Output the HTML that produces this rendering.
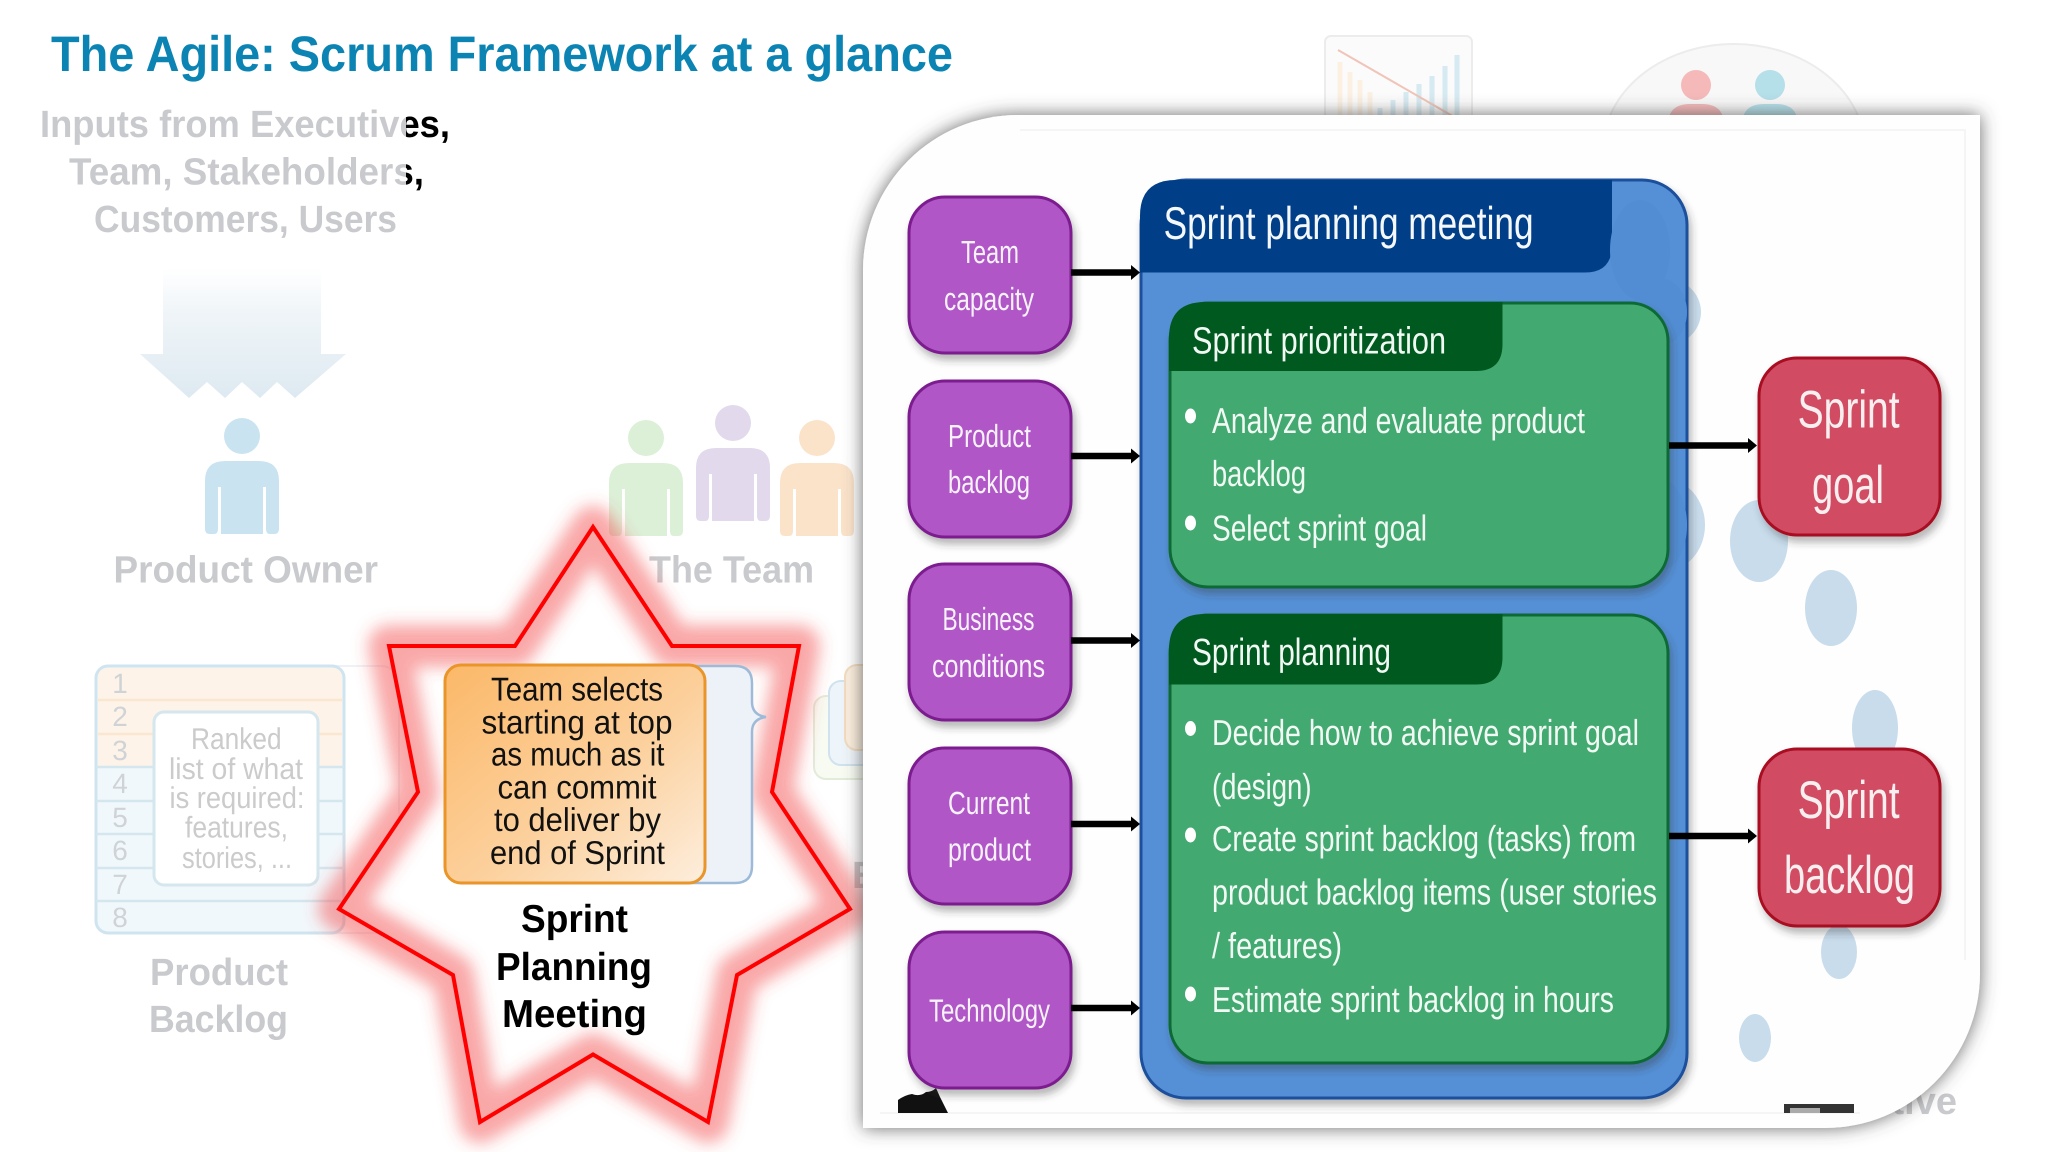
<!DOCTYPE html>
<html><head><meta charset="utf-8"><title>The Agile: Scrum Framework at a glance</title>
<style>
html,body{margin:0;padding:0;background:#fff;width:2048px;height:1152px;overflow:hidden}
svg{display:block}
text{font-family:"Liberation Sans",sans-serif;text-rendering:geometricPrecision}
.g{fill:#c9cacd;font-weight:bold;font-size:38px}
.w{fill:#f6f2fa;font-size:32px}
.b{fill:#f2f9f4;font-size:36px}
.n{fill:#cfd3d6;font-size:28px}
.r{fill:#cbcbcb;font-size:30px}
.o{fill:#111;font-size:33px}
.s{fill:#000;font-weight:bold;font-size:39px}
</style></head><body>
<svg width="2048" height="1152" viewBox="0 0 2048 1152" xmlns="http://www.w3.org/2000/svg">
<defs>
<linearGradient id="inp" gradientUnits="userSpaceOnUse" x1="0" y1="0" x2="2048" y2="0">
<stop offset="0.1982" stop-color="#c9cacd"/><stop offset="0.1982" stop-color="#000"/>
</linearGradient>
<linearGradient id="arr" x1="0" y1="0" x2="0" y2="1">
<stop offset="0" stop-color="#eaf1f6" stop-opacity="0"/><stop offset="0.35" stop-color="#e8f0f5" stop-opacity=".7"/><stop offset="1" stop-color="#dde9f1" stop-opacity="1"/>
</linearGradient>
<linearGradient id="org" x1="0" y1="0" x2="1" y2="1">
<stop offset="0" stop-color="#fbb868"/><stop offset="0.55" stop-color="#fcd09c"/><stop offset="1" stop-color="#fdeedd"/>
</linearGradient>
<filter id="glow" x="-20%" y="-20%" width="140%" height="140%"><feGaussianBlur stdDeviation="8"/></filter>
<filter id="ps" x="-10%" y="-10%" width="120%" height="120%"><feDropShadow dx="0" dy="0" stdDeviation="9" flood-color="#444" flood-opacity=".8"/></filter>
<filter id="bs" x="-20%" y="-20%" width="140%" height="140%"><feDropShadow dx="3" dy="6" stdDeviation="4" flood-color="#333" flood-opacity=".35"/></filter>
<g id="p">
<ellipse cx="37" cy="-25" rx="18" ry="18"/>
<path d="M0 20Q0 0 20 0H54Q74 0 74 20V68Q74 73 69 73H65Q61 73 61 68V26H58V73H16V26H13V68Q13 73 9 73H5Q0 73 0 68Z"/>
</g>
</defs>

<rect width="2048" height="1152" fill="#fff"/>

<!-- title -->
<text x="51" y="71" font-size="50" font-weight="bold" fill="#0b84b4" textLength="902" lengthAdjust="spacingAndGlyphs">The Agile: Scrum Framework at a glance</text>

<!-- inputs -->
<text x="40" y="137" font-size="38" font-weight="bold" fill="url(#inp)" textLength="410" lengthAdjust="spacingAndGlyphs">Inputs from Executives,</text>
<text x="69" y="184.5" font-size="38" font-weight="bold" fill="url(#inp)" textLength="355" lengthAdjust="spacingAndGlyphs">Team, Stakeholders,</text>
<text x="94" y="232" class="g" textLength="303" lengthAdjust="spacingAndGlyphs">Customers, Users</text>

<!-- faded arrows -->
<path d="M163 268H321V354H346L295 398L277 382L260 398L242 382L225 398L207 382L189 398L140 354H163Z" fill="url(#arr)"/>

<!-- people -->
<use href="#p" x="205" y="461" fill="#c9e4f0"/>
<use href="#p" x="609" y="463" fill="#dcf0d8"/>
<use href="#p" x="696" y="448" fill="#e2d9ec"/>
<use href="#p" x="780" y="463" fill="#fbe3ca"/>
<text x="113.5" y="582.5" class="g" textLength="264.5" lengthAdjust="spacingAndGlyphs">Product Owner</text>
<text x="649" y="582.5" class="g" textLength="165" lengthAdjust="spacingAndGlyphs">The Team</text>

<!-- backlog ghost -->
<rect x="300" y="666" width="99" height="267" rx="18" fill="#fff" stroke="#eef2f6" stroke-width="2"/>
<rect x="96" y="666" width="248" height="267" rx="12" fill="#f1f8fc" stroke="#cfe4ee" stroke-width="3"/>
<path d="M98 678Q98 668 108 668H332Q342 668 342 678V766H98Z" fill="#fdf3e8"/>
<g stroke="#d4e6ee" stroke-width="2.5"><path d="M96 767H344M96 801H344M96 834H344M96 868H344M96 901H344"/></g>
<g stroke="#fbe6cf" stroke-width="2.5"><path d="M98 700H342M98 734H342"/></g>
<text x="120" y="693" class="n" text-anchor="middle">1</text><text x="120" y="726" class="n" text-anchor="middle">2</text><text x="120" y="760" class="n" text-anchor="middle">3</text><text x="120" y="793" class="n" text-anchor="middle">4</text><text x="120" y="827" class="n" text-anchor="middle">5</text><text x="120" y="860" class="n" text-anchor="middle">6</text><text x="120" y="894" class="n" text-anchor="middle">7</text><text x="120" y="927" class="n" text-anchor="middle">8</text>
<rect x="154" y="712" width="164" height="173" rx="10" fill="#fff" stroke="#d4e6ee" stroke-width="3"/>
<text x="191" y="749" class="r" textLength="90.6" lengthAdjust="spacingAndGlyphs">Ranked</text>
<text x="169" y="779" class="r" textLength="134" lengthAdjust="spacingAndGlyphs">list of what</text>
<text x="169.5" y="808" class="r" textLength="135" lengthAdjust="spacingAndGlyphs">is required:</text>
<text x="185" y="837.5" class="r" textLength="103" lengthAdjust="spacingAndGlyphs">features,</text>
<text x="182" y="868" class="r" textLength="110" lengthAdjust="spacingAndGlyphs">stories, ...</text>
<text x="150" y="985" class="g" textLength="138" lengthAdjust="spacingAndGlyphs">Product</text>
<text x="149" y="1032" class="g" textLength="139" lengthAdjust="spacingAndGlyphs">Backlog</text>
<path d="M407 710L418 717L407 724Z" fill="#c6ccd6"/>

<!-- stack ghost behind panel -->
<rect x="814" y="696" width="80" height="83" rx="12" fill="#f7fbf2" stroke="#e3ecd8" stroke-width="2"/>
<rect x="829" y="681" width="80" height="84" rx="12" fill="#eef5fa" stroke="#cfe2ee" stroke-width="2"/>
<rect x="845" y="665" width="80" height="85" rx="12" fill="#fbeedd" stroke="#f2dcc0" stroke-width="2"/>
<text x="852" y="888" class="g" font-size="36">E</text>

<!-- star -->
<polygon points="593,527 672,646 799,646 772,792 850,909 737,975 708,1122 593,1054.5 480,1122 453,975 339,909 418,792 389,646 515,646" fill="#fff"/>
<polygon points="593,527 672,646 799,646 772,792 850,909 737,975 708,1122 593,1054.5 480,1122 453,975 339,909 418,792 389,646 515,646" fill="none" stroke="#f24a4a" stroke-width="42" stroke-opacity=".48" stroke-linejoin="round" filter="url(#glow)"/>
<polygon points="593,527 672,646 799,646 772,792 850,909 737,975 708,1122 593,1054.5 480,1122 453,975 339,909 418,792 389,646 515,646" fill="none" stroke="#f00" stroke-width="4"/>

<!-- bracket & orange box -->
<path d="M600 666H735Q752 666 752 683V702Q752 715 766 717Q752 719 752 732V866Q752 883 735 883H600Z" fill="#edf2f9" stroke="#9dbbd8" stroke-width="2.5"/>
<rect x="445" y="665" width="260" height="218" rx="16" fill="url(#org)" stroke="#e9952a" stroke-width="3"/>
<text x="491" y="700.4" class="o" textLength="172" lengthAdjust="spacingAndGlyphs">Team selects</text>
<text x="481.5" y="733.6" class="o" textLength="191" lengthAdjust="spacingAndGlyphs">starting at top</text>
<text x="491" y="765.7" class="o" textLength="173.5" lengthAdjust="spacingAndGlyphs">as much as it</text>
<text x="497.5" y="798.6" class="o" textLength="159" lengthAdjust="spacingAndGlyphs">can commit</text>
<text x="494" y="831" class="o" textLength="167" lengthAdjust="spacingAndGlyphs">to deliver by</text>
<text x="490" y="864" class="o" textLength="175" lengthAdjust="spacingAndGlyphs">end of Sprint</text>
<text x="521" y="932" class="s" textLength="107" lengthAdjust="spacingAndGlyphs">Sprint</text>
<text x="496" y="980" class="s" textLength="156" lengthAdjust="spacingAndGlyphs">Planning</text>
<text x="502" y="1027" class="s" textLength="145" lengthAdjust="spacingAndGlyphs">Meeting</text>

<!-- ghosts top-right -->
<rect x="1325" y="36" width="147" height="90" rx="6" fill="#fbfbfb" stroke="#ececec" stroke-width="2"/>
<g stroke-width="5" opacity=".6">
<path d="M1340 125V62M1350 125V72M1360 125V80M1370 125V92" stroke="#fbe9d2"/>
<path d="M1380 125V108M1393 125V100M1406 125V92M1419 125V84M1432 125V76M1445 125V66M1457 125V55" stroke="#bfe0ec"/>
</g>
<path d="M1338 50L1456 118" stroke="#f0c4b8" stroke-width="2"/>
<ellipse cx="1734" cy="150" rx="131" ry="106" fill="#f8f8f8" stroke="#ececec" stroke-width="2"/>
<ellipse cx="1696" cy="85" rx="15" ry="15" fill="#f5b9b9"/>
<ellipse cx="1770" cy="85" rx="15" ry="15" fill="#b5dfe9"/>
<path d="M1668 125Q1668 104 1690 104H1702Q1724 104 1724 125Z" fill="#f5b9b9"/>
<path d="M1742 125Q1742 104 1764 104H1776Q1798 104 1798 125Z" fill="#b5dfe9"/>
<text x="1957" y="1114" class="g" text-anchor="end">Retrospective</text>

<!-- panel -->
<path d="M863 270A155 155 0 0 1 1018 115H1980V973A155 155 0 0 1 1825 1128H863Z" fill="#fefefe" filter="url(#ps)"/>
<path d="M1020 130H1965V960M880 1113H1860" fill="none" stroke="#f5f5f5" stroke-width="2"/>

<!-- pale ellipses -->
<g fill="#c8dcec">
<ellipse cx="1759" cy="541" rx="29" ry="41"/>
<ellipse cx="1831" cy="608" rx="26" ry="38"/>
<ellipse cx="1875" cy="728" rx="23" ry="38"/>
<ellipse cx="1839" cy="952" rx="18" ry="27"/>
<ellipse cx="1755" cy="1038" rx="16" ry="24"/>
<ellipse cx="1665" cy="312" rx="36" ry="34"/>
<ellipse cx="1665" cy="525" rx="40" ry="46"/>
</g>

<!-- black blobs -->
<path d="M898 1113V1100Q905 1095 912 1094Q920 1097 926 1092Q932 1092 936 1088L940 1097L948 1113Z" fill="#111"/>
<rect x="1784" y="1104" width="70" height="9" fill="#333"/>
<rect x="1790" y="1108" width="30" height="5" fill="#aaa"/>

<!-- purple boxes -->
<g fill="#b057c7" stroke="#7b1f8f" stroke-width="3" filter="url(#bs)">
<rect x="909" y="197" width="162" height="156" rx="36"/>
<rect x="909" y="381" width="162" height="156" rx="36"/>
<rect x="909" y="564" width="162" height="156" rx="36"/>
<rect x="909" y="748" width="162" height="156" rx="36"/>
<rect x="909" y="932" width="162" height="156" rx="36"/>
</g>
<text x="961" y="263" class="w" textLength="58" lengthAdjust="spacingAndGlyphs">Team</text>
<text x="944" y="310" class="w" textLength="90" lengthAdjust="spacingAndGlyphs">capacity</text>
<text x="948" y="447" class="w" textLength="83" lengthAdjust="spacingAndGlyphs">Product</text>
<text x="948" y="493" class="w" textLength="82" lengthAdjust="spacingAndGlyphs">backlog</text>
<text x="942.5" y="630" class="w" textLength="92" lengthAdjust="spacingAndGlyphs">Business</text>
<text x="932" y="677" class="w" textLength="113" lengthAdjust="spacingAndGlyphs">conditions</text>
<text x="948" y="814" class="w" textLength="82" lengthAdjust="spacingAndGlyphs">Current</text>
<text x="948" y="860.5" class="w" textLength="83" lengthAdjust="spacingAndGlyphs">product</text>
<text x="929" y="1021.5" class="w" textLength="121" lengthAdjust="spacingAndGlyphs">Technology</text>

<!-- blue -->
<rect x="1141" y="180" width="546" height="918" rx="45" fill="#5490d6" stroke="#1a4f9c" stroke-width="3" filter="url(#bs)"/>
<path d="M1140 272.5V216Q1140 180 1176 180H1612V245Q1612 272.5 1585 272.5Z" fill="#003f87"/>
<ellipse cx="1640" cy="250" rx="30" ry="50" fill="#528dd3"/>
<ellipse cx="1660" cy="312" rx="27" ry="34" fill="#528dd3"/>
<ellipse cx="1660" cy="525" rx="27" ry="46" fill="#528dd3"/>
<text x="1163.6" y="239" fill="#f5f8fc" font-size="46" textLength="370" lengthAdjust="spacingAndGlyphs">Sprint planning meeting</text>

<!-- green 1 -->
<rect x="1170" y="303" width="498" height="284" rx="38" fill="#43a971" stroke="#0a6a34" stroke-width="3" filter="url(#bs)"/>
<path d="M1169 371V338Q1169 302 1205 302H1502.5V345Q1502 371 1476 371Z" fill="#005a1f"/>
<text x="1192" y="353.7" fill="#f2f9f4" font-size="38" textLength="254" lengthAdjust="spacingAndGlyphs">Sprint prioritization</text>
<ellipse cx="1190.5" cy="416" rx="5.5" ry="7.5" fill="#fff"/>
<ellipse cx="1190.5" cy="523" rx="5.5" ry="7.5" fill="#fff"/>
<text x="1212" y="433" class="b" textLength="373" lengthAdjust="spacingAndGlyphs">Analyze and evaluate product</text>
<text x="1212" y="486" class="b" textLength="94" lengthAdjust="spacingAndGlyphs">backlog</text>
<text x="1212" y="540.5" class="b" textLength="215" lengthAdjust="spacingAndGlyphs">Select sprint goal</text>

<!-- green 2 -->
<rect x="1170" y="615" width="498" height="448" rx="38" fill="#43a971" stroke="#0a6a34" stroke-width="3" filter="url(#bs)"/>
<path d="M1169 684.5V650Q1169 614 1205 614H1502.5V658Q1502 684.5 1476 684.5Z" fill="#005a1f"/>
<text x="1192" y="665" fill="#f2f9f4" font-size="38" textLength="199" lengthAdjust="spacingAndGlyphs">Sprint planning</text>
<ellipse cx="1190.5" cy="728.5" rx="5.5" ry="7.5" fill="#fff"/>
<ellipse cx="1190.5" cy="835" rx="5.5" ry="7.5" fill="#fff"/>
<ellipse cx="1190.5" cy="994" rx="5.5" ry="7.5" fill="#fff"/>
<text x="1212" y="745" class="b" textLength="427" lengthAdjust="spacingAndGlyphs">Decide how to achieve sprint goal</text>
<text x="1212" y="799" class="b" textLength="99.5" lengthAdjust="spacingAndGlyphs">(design)</text>
<text x="1212" y="851" class="b" textLength="424" lengthAdjust="spacingAndGlyphs">Create sprint backlog (tasks) from</text>
<text x="1212" y="904.6" class="b" textLength="445" lengthAdjust="spacingAndGlyphs">product backlog items (user stories</text>
<text x="1212" y="958" class="b" textLength="130" lengthAdjust="spacingAndGlyphs">/ features)</text>
<text x="1212" y="1012" class="b" textLength="402" lengthAdjust="spacingAndGlyphs">Estimate sprint backlog in hours</text>

<!-- red -->
<g fill="#d14b62" stroke="#a81020" stroke-width="3" filter="url(#bs)">
<rect x="1759" y="358" width="181" height="177" rx="38"/>
<rect x="1759" y="749" width="181" height="177" rx="38"/>
</g>
<g fill="#f7eef0" font-size="53">
<text x="1797.6" y="427.6" textLength="102" lengthAdjust="spacingAndGlyphs">Sprint</text>
<text x="1812" y="503" textLength="72" lengthAdjust="spacingAndGlyphs">goal</text>
<text x="1797.6" y="818" textLength="102" lengthAdjust="spacingAndGlyphs">Sprint</text>
<text x="1784" y="893" textLength="131" lengthAdjust="spacingAndGlyphs">backlog</text>
</g>

<!-- arrows -->
<g stroke="#000" stroke-width="6.5" fill="none">
<path d="M1071 272.5H1134M1071 456H1134M1071 640.5H1134M1071 824H1134M1071 1008H1134M1669 445.5H1752M1669 836H1752"/>
</g>
<g fill="#000">
<path d="M1131 265L1140 272.5L1131 280Z"/>
<path d="M1131 448.5L1140 456L1131 463.5Z"/>
<path d="M1131 633L1140 640.5L1131 648Z"/>
<path d="M1131 816.5L1140 824L1131 831.5Z"/>
<path d="M1131 1000.5L1140 1008L1131 1015.5Z"/>
<path d="M1748 438L1757 445.5L1748 453Z"/>
<path d="M1748 828.5L1757 836L1748 843.5Z"/>
</g>
</svg>
</body></html>
